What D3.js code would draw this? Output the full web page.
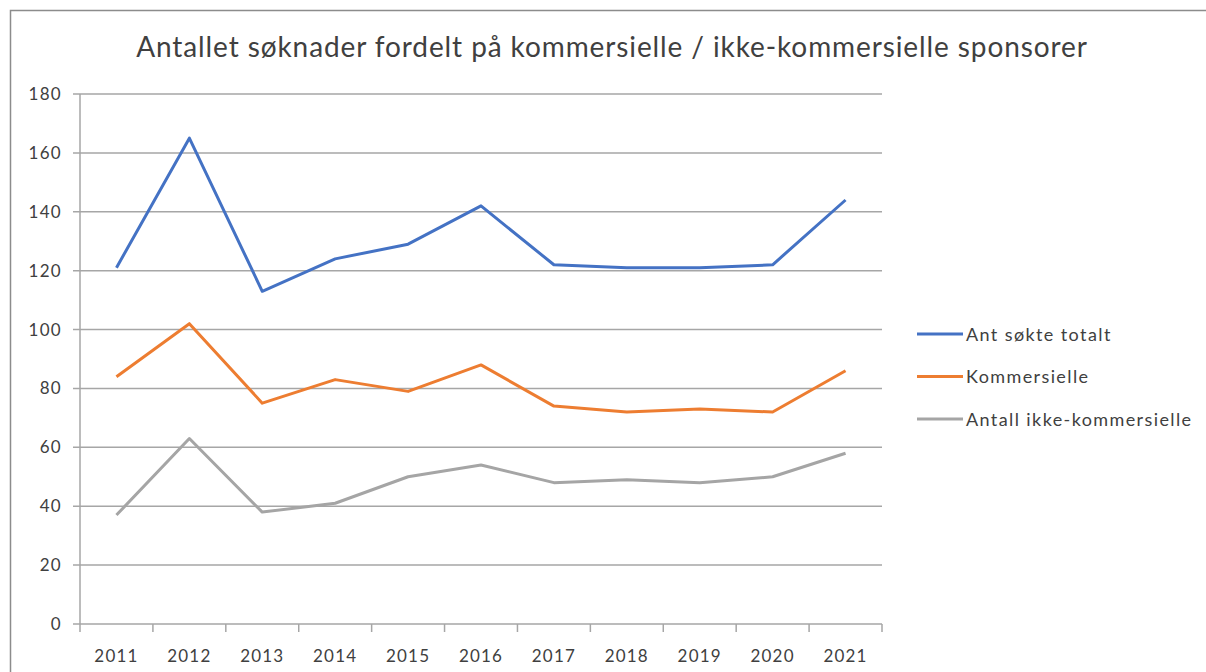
<!DOCTYPE html>
<html>
    <head>
        <meta charset="utf-8" />
        <script src="https://d3js.org/d3.v7.min.js"></script>
        <style>
            body { margin: 0; background: #fff; }
            text { font-family: Lato, 'Open Sans', sans-serif; fill: #404040; }
        </style>
    </head>
    <body>
        <svg width="1206" height="672"></svg>
        <script>
            const years = ['2011', '2012', '2013', '2014', '2015', '2016', '2017', '2018', '2019', '2020', '2021']
            const totalt = [121, 165, 113, 124, 129, 142, 122, 121, 121, 122, 144]
            const kommersielle = [84, 102, 75, 83, 79, 88, 74, 72, 73, 72, 86]
            const ikkeKommersielle = [37, 63, 38, 41, 50, 54, 48, 49, 48, 50, 58]
            const yTicks = [0, 20, 40, 60, 80, 100, 120, 140, 160, 180]

            const series = [
                { name: 'Ant søkte totalt', values: totalt, color: '#4472C4' },
                { name: 'Kommersielle', values: kommersielle, color: '#ED7D31' },
                { name: 'Antall ikke-kommersielle', values: ikkeKommersielle, color: '#A5A5A5' },
            ]

            const svg = d3.select('svg')

            // chart frame
            svg.append('rect')
                .attr('x', 10.5).attr('y', 10.5)
                .attr('width', 1210).attr('height', 680)
                .attr('fill', 'none').attr('stroke', '#8c8c8c').attr('stroke-width', 1.5)

            svg.append('text')
                .attr('x', 612).attr('y', 57)
                .attr('text-anchor', 'middle')
                .style('font-size', '28px')
                .style('letter-spacing', '0.9px')
                .text('Antallet søknader fordelt på kommersielle / ikke-kommersielle sponsorer')

            const plotLeft = 80, plotRight = 882, plotTop = 94, plotBottom = 624

            const x = d3.scaleBand().domain(years).range([plotLeft, plotRight])
            const y = d3.scaleLinear().domain([0, 180]).range([plotBottom, plotTop])

            // gridlines
            svg.append('g')
                .selectAll('line')
                .data(yTicks)
                .join('line')
                .attr('x1', plotLeft - 7).attr('x2', plotRight)
                .attr('y1', (d) => y(d)).attr('y2', (d) => y(d))
                .attr('stroke', '#a6a6a6').attr('stroke-width', 1.5)

            // y axis line
            svg.append('line')
                .attr('x1', plotLeft).attr('x2', plotLeft)
                .attr('y1', plotTop).attr('y2', plotBottom)
                .attr('stroke', '#a6a6a6').attr('stroke-width', 1.5)

            svg.append('g')
                .selectAll('text')
                .data(yTicks)
                .join('text')
                .attr('x', 62).attr('y', (d) => y(d) + 6)
                .attr('text-anchor', 'end')
                .style('font-size', '17px')
                .style('letter-spacing', '1.3px')
                .text((d) => d)

            // x axis ticks at band edges
            const edges = years.map((d) => x(d)).concat([plotRight])
            svg.append('g')
                .selectAll('line')
                .data(edges)
                .join('line')
                .attr('x1', (d) => d).attr('x2', (d) => d)
                .attr('y1', plotBottom).attr('y2', plotBottom + 8)
                .attr('stroke', '#a6a6a6').attr('stroke-width', 1.5)

            svg.append('g')
                .selectAll('text')
                .data(years)
                .join('text')
                .attr('x', (d) => x(d) + x.bandwidth() / 2)
                .attr('y', 662)
                .attr('text-anchor', 'middle')
                .style('font-size', '17px')
                .style('letter-spacing', '1.2px')
                .text((d) => d)

            const line = d3.line()
                .x((d, i) => x(years[i]) + x.bandwidth() / 2)
                .y((d) => y(d))

            svg.append('g')
                .selectAll('path')
                .data(series)
                .join('path')
                .attr('d', (s) => line(s.values))
                .attr('fill', 'none')
                .attr('stroke', (s) => s.color)
                .attr('stroke-width', 3)
                .attr('stroke-linejoin', 'round')

            const legend = svg.append('g')
                .selectAll('g')
                .data(series)
                .join('g')
                .attr('transform', (s, i) => `translate(917, ${334 + i * 42.5})`)
            legend.append('line')
                .attr('x1', 0).attr('x2', 46)
                .attr('stroke', (s) => s.color).attr('stroke-width', 3)
            legend.append('text')
                .attr('x', 49).attr('y', 6.5)
                .style('font-size', '18px')
                .style('letter-spacing', '1.4px')
                .text((s) => s.name)
        </script>
    </body>
</html>
